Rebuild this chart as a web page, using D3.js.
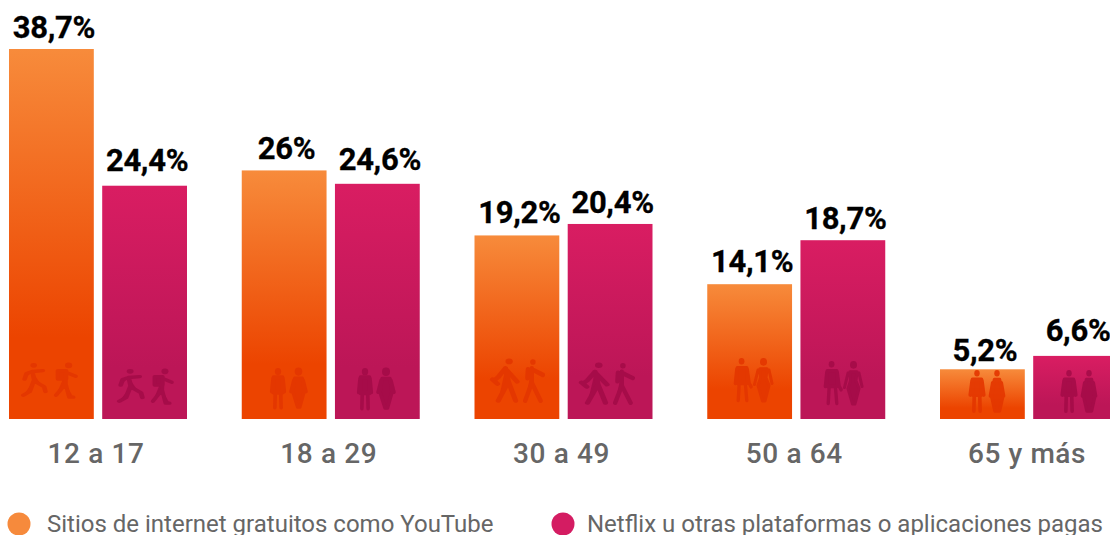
<!DOCTYPE html>
<html><head><meta charset="utf-8">
<script src="https://cdn.jsdelivr.net/npm/d3@7"></script>
<style>
html,body{margin:0;padding:0;background:#fff;overflow:hidden}
svg{display:block;font-family:Roboto,sans-serif}
.tick text{font-family:Roboto,sans-serif}
</style></head><body>
<svg id="c" width="1110" height="535"></svg>
<script>
const categories = ["12 a 17","18 a 29","30 a 49","50 a 64","65 y más"];
const seriesNames = ["Sitios de internet gratuitos como YouTube","Netflix u otras plataformas o aplicaciones pagas"];
const freeSites = [38.7,26,19.2,14.1,5.2];
const paidApps = [24.4,24.6,20.4,18.7,6.6];
const freeLabels = ["38,7%","26%","19,2%","14,1%","5,2%"];
const paidLabels = ["24,4%","24,6%","20,4%","18,7%","6,6%"];
const freeLabelGap = [11,11,12,12,8];
const paidLabelGap = [15,14,11,11,15];
const iconPairs = [["runner","hiker"],["man","woman"],["walker","strider"],["suit","dress"],["elder","elderw"]];

const svg = d3.select("#c");
const baseY = 419, topY = 49;
const y = d3.scaleLinear().domain([0,38.7]).range([baseY,topY]);
const step = 232.75, groupW = 178;
const x0 = d3.scaleBand().domain(categories).range([9, 9+step*5-(step-groupW)]).paddingInner((step-groupW)/step).paddingOuter(0);
const x1 = d3.scaleBand().domain([0,1]).range([0,groupW]).paddingInner(8.4/93.2).paddingOuter(0);

const defs = svg.append("defs");
const gradients = [["gradA","#f78b3b","#ec4400"],["gradB","#d91d62","#bc1657"]];
gradients.forEach(([id,a,b])=>{
  const g = defs.append("linearGradient").attr("id",id).attr("x1",0).attr("x2",0).attr("y1",0).attr("y2",1);
  g.append("stop").attr("offset","0%").attr("stop-color",a);
  g.append("stop").attr("offset","78%").attr("stop-color",b);
});

// pictograms, drawn in a 40x80 box: head [cx,cy,r], body path, stroke width
const figures = {
  man:    {h:[20,7,7],  s:"M9 20 L6 46 M31 20 L34 46 M14 46 L13 77 M26 46 L27 77 M10 18 H30 V48 H10Z", w:8},
  woman:  {h:[20,7,8],  s:"M10 24 L4 46 M30 24 L36 46 M12 20 H28 L32 46 L23 76 H18 L8 46Z", w:7},
  runner: {h:[18,7,5],  s:"M16 20 L7 24 L4 36 M16 20 L19 40 L34 52 L36 62 M16 20 L32 18 M18 40 L12 62 L2 70", w:7},
  hiker:  {h:[26,7,6],  s:"M22 20 L21 46 L5 70 M21 46 L27 74 H34 M22 22 L38 30 M8 18 H22 V36 H8Z", w:7},
  walker: {h:[25,6,5],  s:"M20 18 L10 34 L4 40 M20 18 L24 42 L10 76 M24 42 L34 76 M22 22 L36 42 M2 38 L9 46", w:7},
  strider:{h:[18,7,5],  s:"M16 18 L16 44 L4 76 M16 44 L32 76 M16 20 L36 30 M9 20 L8 36", w:8},
  suit:   {h:[18,6,6],  s:"M8 20 L5 46 M30 20 L34 46 L38 52 M13 46 L11 77 M26 46 L29 77 M9 18 H29 V46 H9Z", w:7},
  dress:  {h:[21,7,7],  s:"M10 22 L3 48 M32 22 L38 46 M14 20 H28 L26 36 L32 50 L24 78 H19 L10 50 L15 36Z", w:6},
  elder:  {h:[20,6,6],  s:"M9 20 L5 46 M31 20 L35 46 M14 46 L13 76 M26 46 L27 76 M10 18 H30 V46 H10Z", w:8},
  elderw: {h:[20,6,6],  s:"M10 24 L5 48 M30 24 L35 48 M14 18 H26 L33 50 L26 76 H15 L8 50Z", w:7}
};
const iconTop = [[362,368],[368,368],[358,362],[358,361],[370,370]];
const iconH = [[38,38],[41,42],[45,43],[44,44],[43,43]];
const iconX = [[[22,48],[53,77]],[[269,287],[289,308]],[[491,520],[523,545]],[[733,752],[753,773]],[[968,986],[988,1006]]];
const iconXB = [[[118,145],[150,173]],[[356,374],[376,396]],[[580,610],[613,635]],[[823,842],[843,863]],[[1060,1078],[1080,1098]]];

const series = [
  {key:0,values:freeSites,labels:freeLabels,gap:freeLabelGap,icon:"#e43600",op:.9,fill:"url(#gradA)"},
  {key:1,values:paidApps,labels:paidLabels,gap:paidLabelGap,icon:"#a30b47",op:.85,fill:"url(#gradB)"}
];

series.forEach(s=>{
  const g = svg.append("g");
  g.selectAll("rect").data(s.values).join("rect")
    .attr("x",(d,i)=>x0(categories[i])+x1(s.key))
    .attr("y",d=>y(d))
    .attr("width",x1.bandwidth())
    .attr("height",d=>y(0)-y(d))
    .attr("fill",s.fill);
  g.selectAll("text").data(s.values).join("text")
    .attr("x",(d,i)=>x0(categories[i])+x1(s.key)+x1.bandwidth()/2+2.5)
    .attr("y",(d,i)=>y(d)-s.gap[i])
    .attr("text-anchor","middle")
    .attr("font-size",31).attr("font-weight",700).attr("fill","#000")
    .attr("stroke","#000").attr("stroke-width",.3).attr("letter-spacing","-.3px")
    .text((d,i)=>s.labels[i]);
});

function drawFigure(name,bx,by,bw,bh,color,op){
  const f = figures[name];
  const g = svg.append("g")
    .attr("transform",`translate(${bx},${by}) scale(${bw/40},${bh/80})`)
    .attr("opacity",op);
  g.append("circle").attr("cx",f.h[0]).attr("cy",f.h[1]).attr("r",f.h[2]).attr("fill",color);
  g.append("path").attr("d",f.s).attr("fill",color).attr("fill-rule","nonzero").attr("stroke",color)
    .attr("stroke-width",f.w).attr("stroke-linecap","round").attr("stroke-linejoin","round");
}
iconPairs.forEach((pair,i)=>{
  pair.forEach((name,j)=>{
    const a = iconX[i][j], b = iconXB[i][j];
    drawFigure(name,a[0],iconTop[i][0],a[1]-a[0],iconH[i][0],series[0].icon,series[0].op);
    drawFigure(name,b[0],iconTop[i][1],b[1]-b[0],iconH[i][1],series[1].icon,series[1].op);
  });
});

const axis = d3.axisBottom(x0).tickSize(0).tickPadding(0);
const ax = svg.append("g").attr("transform","translate(-2,419)").call(axis);
ax.select(".domain").remove();
ax.selectAll("text").attr("y",0).attr("dy",44).attr("font-size",28).attr("font-weight",500)
  .attr("fill","#666").attr("letter-spacing",".6px");

const legendX = [19,563];
seriesNames.forEach((n,i)=>{
  svg.append("circle").attr("cx",legendX[i]).attr("cy",524).attr("r",11.5).attr("fill",i?"#d41c62":"#f68a3c");
  svg.append("text").attr("x",legendX[i]+(i?24:28)).attr("y",532).attr("font-size",24).attr("fill","#666")
    .text(n);
});
</script></body></html>
